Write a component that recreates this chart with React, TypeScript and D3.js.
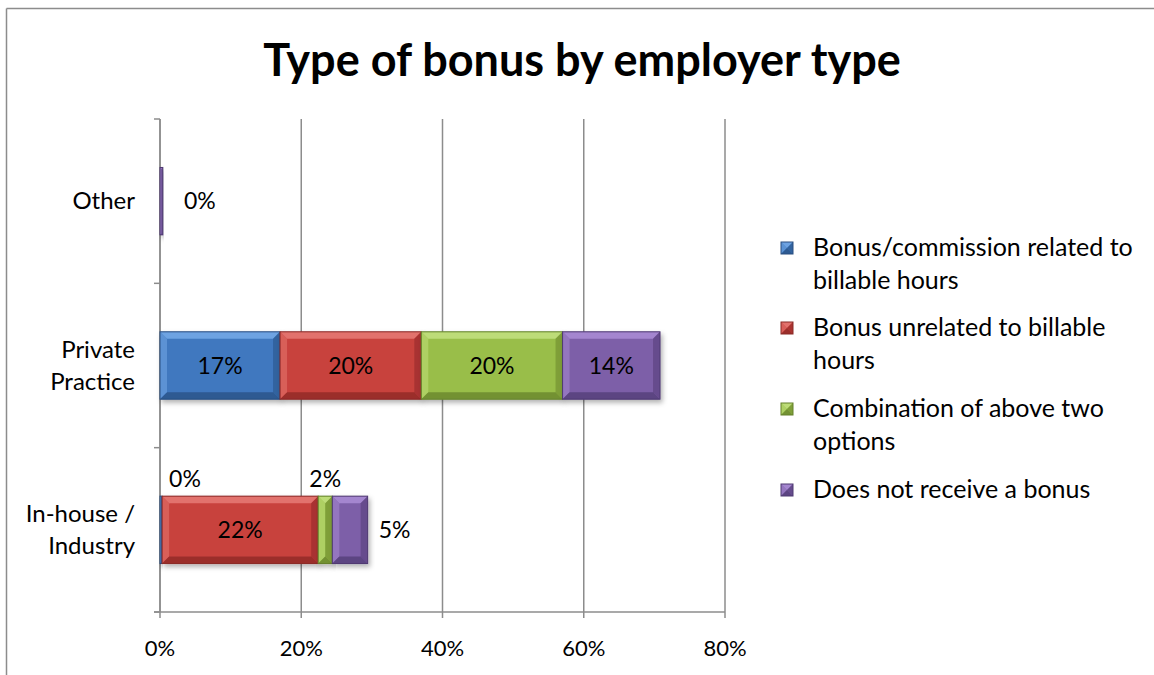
import React from "react";
import * as d3 from "d3";

const categories = ["Other", "Private Practice", "In-house / Industry"];
const categoryLines: Record<string, string[]> = {
  "Other": ["Other"],
  "Private Practice": ["Private", "Practice"],
  "In-house / Industry": ["In-house /", "Industry"],
};
const seriesNames = [
  "Bonus/commission related to billable hours",
  "Bonus unrelated to billable hours",
  "Combination of above two options",
  "Does not receive a bonus",
];
const legendLines = [
  ["Bonus/commission related to", "billable hours"],
  ["Bonus unrelated to billable", "hours"],
  ["Combination of above two", "options"],
  ["Does not receive a bonus"],
];
// values per series, in category order [Other, Private Practice, In-house / Industry]
const bonusRelated = [0, 0.17, 0.003];
const bonusUnrelated = [0, 0.2, 0.221];
const combination = [0, 0.2, 0.02];
const noBonus = [0.004, 0.138, 0.05];
const xTicks = [0, 0.2, 0.4, 0.6, 0.8];

const seriesValues = [bonusRelated, bonusUnrelated, combination, noBonus];

const colors = [
  { base: "#3f78bf", light: "#6ea3e2", dark: "#2d5a92", edge: "#2a4f80" },
  { base: "#c8423e", light: "#e2726d", dark: "#9b2e2b", edge: "#8a2a27" },
  { base: "#99be48", light: "#bddc78", dark: "#739133", edge: "#64802b" },
  { base: "#7d5fa8", light: "#a486cf", dark: "#5c4482", edge: "#4f3a72" },
];

const FONT = "Lato, 'Open Sans', sans-serif";

function Bevel({ x, y, w, h, c }: { x: number; y: number; w: number; h: number; c: typeof colors[0] }) {
  const b = Math.min(7, w / 2, h / 2);
  const x1 = x + w, y1 = y + h;
  return (
    <g>
      <rect x={x} y={y} width={w} height={h} fill={c.base} />
      <polygon points={`${x},${y} ${x1},${y} ${x1 - b},${y + b} ${x + b},${y + b}`} fill={c.light} />
      <polygon points={`${x},${y} ${x + b},${y + b} ${x + b},${y1 - b} ${x},${y1}`} fill={c.light} opacity={0.6} />
      <polygon points={`${x1},${y} ${x1},${y1} ${x1 - b},${y1 - b} ${x1 - b},${y + b}`} fill={c.dark} opacity={0.7} />
      <polygon points={`${x},${y1} ${x1},${y1} ${x1 - b},${y1 - b} ${x + b},${y1 - b}`} fill={c.dark} />
      <rect x={x} y={y} width={w} height={h} fill="none" stroke={c.edge} strokeWidth={1} />
    </g>
  );
}

export default function App() {
  const W = 1154, H = 675;
  const left = 160, right = 725, top = 119, bottom = 612;
  const x = d3.scaleLinear().domain([0, 0.8]).range([left, right]);
  const y = d3.scaleBand<string>().domain(categories).range([top, bottom]).paddingInner(0.59).paddingOuter(0.295);
  const fmt = d3.format(".0%");

  const stacked = categories.map((cat, ci) => {
    let acc = 0;
    return seriesValues.map((vals, si) => {
      const v = vals[ci];
      const s = { cat, si, v, x0: acc, x1: acc + v };
      acc += v;
      return s;
    });
  });

  // label placement adjustments for small segments
  const labelPos = (seg: { cat: string; si: number; x0: number; x1: number; v: number }) => {
    const yc = (y(seg.cat) as number) + y.bandwidth() / 2;
    const yt = y(seg.cat) as number;
    const xc = (x(seg.x0) + x(seg.x1)) / 2;
    if (seg.cat === "Other") return { lx: x(seg.x1) + 37, ly: yc };
    if (seg.cat === "In-house / Industry") {
      if (seg.si === 0) return { lx: x(seg.x0) + 25, ly: yt - 17 };
      if (seg.si === 2) return { lx: xc, ly: yt - 17 };
      if (seg.si === 3) return { lx: x(seg.x1) + 27, ly: yc };
    }
    return { lx: xc, ly: yc };
  };

  return (
    <svg width={W} height={H} style={{ position: "absolute", left: 0, top: 0, background: "#fff" }}>
      <defs>
        <filter id="sh" x="-10%" y="-20%" width="130%" height="160%">
          <feDropShadow dx={2} dy={3} stdDeviation={2.5} floodColor="#000" floodOpacity={0.3} />
        </filter>
      </defs>
      <rect x={0} y={0} width={W} height={H} fill="#fff" />
      {/* chart frame */}
      <line x1={6.5} y1={8.5} x2={W} y2={8.5} stroke="#8c8c8c" strokeWidth={1.5} />
      <line x1={6.5} y1={8.5} x2={6.5} y2={H} stroke="#8c8c8c" strokeWidth={1.5} />

      <text x={582} y={76} textAnchor="middle" fontFamily={FONT} fontWeight={700} fontSize={45} fill="#000">
        Type of bonus by employer type
      </text>

      {/* gridlines */}
      {xTicks.map((t) => (
        <line key={t} x1={x(t)} x2={x(t)} y1={top} y2={bottom + 6} stroke="#8c8c8c" strokeWidth={1.5} />
      ))}
      {/* y axis ticks */}
      {[top, ...categories.map((c) => (y(c) as number) + y.bandwidth() / 2 + y.step() / 2)].map((ty, i) => (
        <line key={i} x1={left - 6} x2={left} y1={ty} y2={ty} stroke="#8c8c8c" strokeWidth={1.5} />
      ))}
      <line x1={left - 6} x2={right} y1={bottom} y2={bottom} stroke="#8c8c8c" strokeWidth={1.5} />
      <line x1={left} x2={left} y1={top} y2={bottom} stroke="#8c8c8c" strokeWidth={1.5} />

      {xTicks.map((t) => (
        <text key={t} x={x(t)} y={656} textAnchor="middle" fontFamily={FONT} fontSize={22} fill="#000">
          {fmt(t)}
        </text>
      ))}

      {categories.map((c) => {
        const lines = categoryLines[c];
        const yc = (y(c) as number) + y.bandwidth() / 2;
        return (
          <text key={c} x={135} textAnchor="end" fontFamily={FONT} fontSize={24} fill="#000">
            {lines.map((l, i) => (
              <tspan key={i} x={135} y={yc + 8 + (i - (lines.length - 1) / 2) * 32}>{l}</tspan>
            ))}
          </text>
        );
      })}

      {/* bars */}
      {stacked.map((segs) =>
        segs.filter((s) => s.v > 0).map((s) => (
          <g key={s.cat + s.si} filter="url(#sh)">
            <Bevel x={x(s.x0)} y={y(s.cat) as number} w={x(s.x1) - x(s.x0)} h={y.bandwidth()} c={colors[s.si]} />
          </g>
        ))
      )}

      {/* data labels */}
      {stacked.map((segs) =>
        segs.filter((s) => s.v > 0 || s.cat !== "Other").map((s) => {
          const p = labelPos(s);
          return (
            <text key={"l" + s.cat + s.si} x={p.lx} y={p.ly + 8} textAnchor="middle" fontFamily={FONT} fontSize={23} fill="#000">
              {fmt(s.v)}
            </text>
          );
        })
      )}

      {/* legend */}
      {legendLines.map((lines, i) => {
        const baseY = [248, 328, 409, 490][i];
        const c = colors[i];
        return (
          <g key={seriesNames[i]}>
            <Bevel x={781} y={baseY - 6} w={12} h={12} c={c} />
            <text fontFamily={FONT} fontSize={25} fill="#000">
              {lines.map((l, j) => (
                <tspan key={j} x={813} y={baseY + 8 + j * 33}>{l}</tspan>
              ))}
            </text>
          </g>
        );
      })}
    </svg>
  );
}
